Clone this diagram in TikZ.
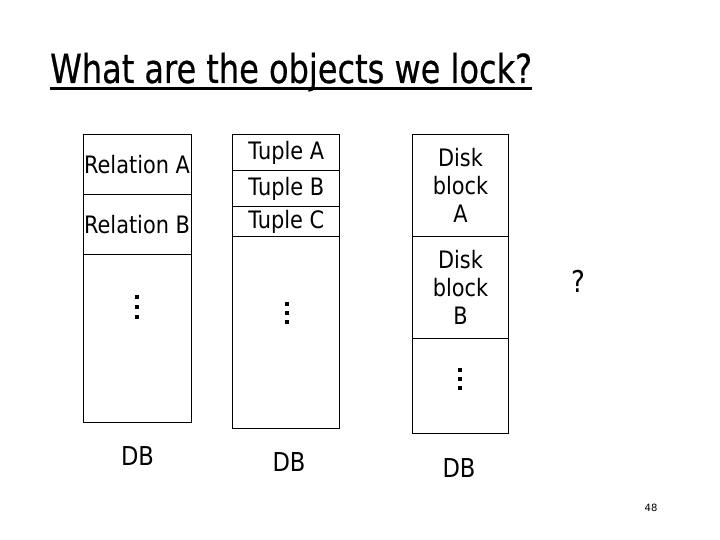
\documentclass[tikz,border=0pt]{standalone}
\usepackage{fontspec}
\setmainfont{DejaVu Sans}
\newfontfamily\titlefont[FakeStretch=0.8,FakeBold=0.5]{DejaVu Sans}
\newfontfamily\bodyfont[FakeStretch=0.87]{DejaVu Sans}
\tikzset{
  cellbox/.style={draw, line width=1pt, inner sep=0pt, align=center,
    font=\bodyfont\fontsize{24}{28}\selectfont},
  lbl/.style={inner sep=0pt, font=\bodyfont\fontsize{26}{30}\selectfont},
  dotsq/.style={fill=black, inner sep=0pt, minimum size=3.6pt},
}
\begin{document}
\begin{tikzpicture}[x=1pt, y=-1pt]
\useasboundingbox (0,0) rectangle (720,540);
% title
\node[anchor=base west, inner sep=0pt, font=\titlefont\fontsize{40}{48}\selectfont] (title) at (50,83) {What are the objects we lock?};
\draw[line width=2.6pt] ([yshift=-5.5pt]title.base west) -- ([yshift=-5.5pt]title.base east);
% column 1
\node[cellbox, minimum width=108pt, minimum height=60pt] (r1) at (137,164.3) {Relation A};
\node[cellbox, minimum width=108pt, minimum height=60.4pt] (r2) at (137,224.5) {Relation B};
\node[cellbox, minimum width=108pt, minimum height=167.6pt] (r3) at (137,338.5) {};
\foreach \y [count=\i] in {297,307,317} \node[dotsq] (ra\i) at (137,\y) {};
% column 2
\node[cellbox, minimum width=107.3pt, minimum height=36.4pt] (t1) at (286.3,152.5) {Tuple A};
\node[cellbox, minimum width=107.3pt, minimum height=36pt] (t2) at (286.3,188.7) {Tuple B};
\node[cellbox, minimum width=107.3pt, minimum height=30pt] (t3) at (286.3,221.7) {Tuple C};
\node[cellbox, minimum width=107.3pt, minimum height=191.6pt] (t4) at (286.3,332.5) {};
\foreach \y [count=\i] in {304,313,322} \node[dotsq] (ta\i) at (287,\y) {};
% column 3
\node[cellbox, minimum width=95.6pt, minimum height=102pt] (d1) at (460.5,185.3) {Disk\\block\\A};
\node[cellbox, minimum width=95.6pt, minimum height=102.4pt] (d2) at (460.5,287.5) {Disk\\block\\B};
\node[cellbox, minimum width=95.6pt, minimum height=95.3pt] (d3) at (460.5,386.3) {};
\foreach \y [count=\i] in {370,379,388} \node[dotsq] (da\i) at (460,\y) {};
% labels
\node[inner sep=0pt, font=\bodyfont\fontsize{30}{34}\selectfont] (q) at (578,281) {?};
\node[lbl] (db1) at (137.5,456) {DB};
\node[lbl] (db2) at (289,462) {DB};
\node[lbl] (db3) at (459,468) {DB};
\node[inner sep=0pt, font=\fontsize{10}{12}\selectfont] (pg) at (651,508) {48};
\end{tikzpicture}
\end{document}
